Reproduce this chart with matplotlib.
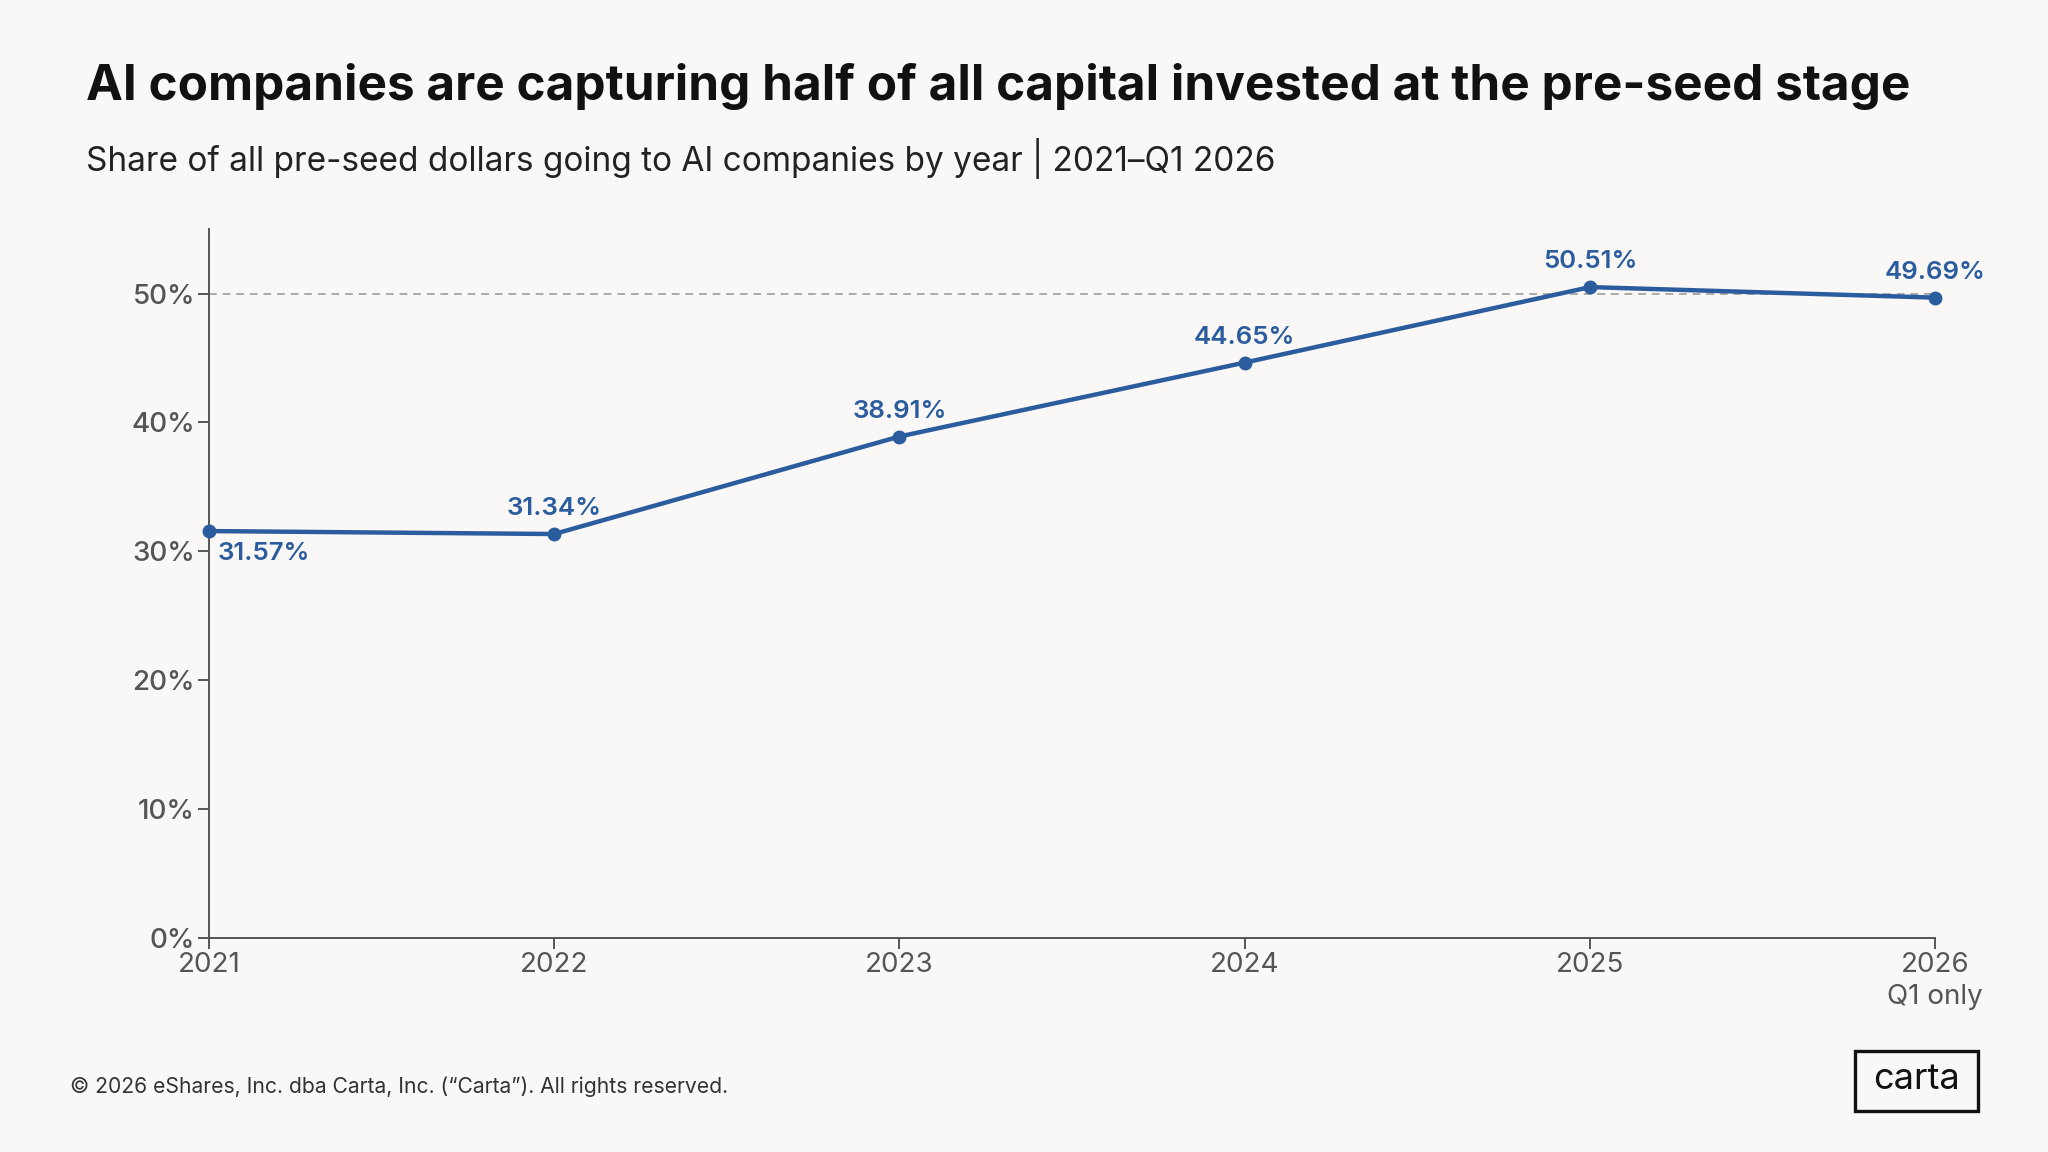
import matplotlib.pyplot as plt
import matplotlib.patches as patches

years = [2021, 2022, 2023, 2024, 2025, 2026]
share = [31.57, 31.34, 38.91, 44.65, 50.51, 49.69]
labels = ["31.57%", "31.34%", "38.91%", "44.65%", "50.51%", "49.69%"]
yticks = [0, 10, 20, 30, 40, 50]

bg = "#FAF8F7"
blue = "#2B5C9E"
grey = "#666666"
plt.rcParams["font.family"] = ["Inter", "DejaVu Sans"]

fig = plt.figure(figsize=(10.24, 5.76), dpi=200, facecolor=bg)
ax = fig.add_axes([0.102, 0.186, 0.843, 0.615], facecolor=bg)

ax.plot(years, share, color=blue, lw=1.6, marker="o", ms=4, zorder=3, clip_on=False)
ax.axhline(50, color="#AAAAAA", lw=0.7, ls=(0, (4, 3)), zorder=1)

for i, (x, y, t) in enumerate(zip(years, share, labels)):
    if i == 0:
        ax.annotate(t, (x, y), xytext=(3, -4), textcoords="offset points",
                    ha="left", va="top", color=blue, fontsize=9.3, fontweight="semibold")
    else:
        ax.annotate(t, (x, y), xytext=(0, 5), textcoords="offset points",
                    ha="center", va="bottom", color=blue, fontsize=9.3, fontweight="semibold")

ax.set_xlim(2021, 2026)
ax.set_ylim(0, 55)
ax.set_yticks(yticks)
ax.set_yticklabels([f"{v}%" for v in yticks], fontsize=10, color=grey, fontweight="medium")
ax.set_xticks(years)
ax.set_xticklabels(["2021", "2022", "2023", "2024", "2025", "2026\nQ1 only"],
                   fontsize=10, color=grey)
for lbl in ax.get_xticklabels():
    lbl.set_linespacing(1.3)
ax.tick_params(axis="both", colors="#555555", length=4, width=0.7, pad=1)
for s in ["top", "right"]:
    ax.spines[s].set_visible(False)
for s in ["left", "bottom"]:
    ax.spines[s].set_color("#555555")
    ax.spines[s].set_linewidth(0.7)

fig.text(0.042, 0.925, "AI companies are capturing half of all capital invested at the pre-seed stage",
         fontsize=17.8, fontweight="bold", color="#111111", va="center")
fig.text(0.042, 0.862, "Share of all pre-seed dollars going to AI companies by year | 2021\u2013Q1 2026",
         fontsize=12, color="#222222", va="center")
fig.text(0.034, 0.057, "\u00a9 2026 eShares, Inc. dba Carta, Inc. (\u201cCarta\u201d). All rights reserved.",
         fontsize=7.6, color="#333333", va="center")

fig.patches.append(patches.Rectangle((0.906, 0.036), 0.060, 0.052, transform=fig.transFigure,
                                     fill=False, edgecolor="#111111", lw=1.2))
fig.text(0.936, 0.063, "carta", fontsize=13, color="#111111", ha="center", va="center")

fig.savefig("out.png", dpi=200, facecolor=bg)
